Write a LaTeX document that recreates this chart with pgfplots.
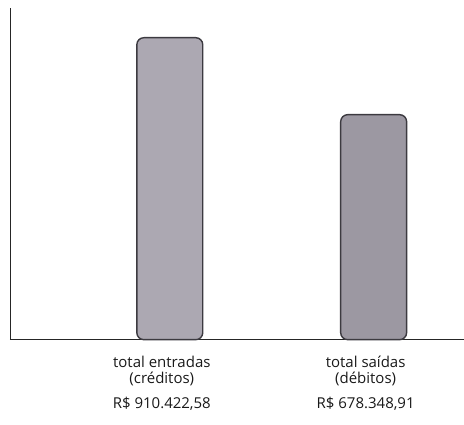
\documentclass[border=0pt]{standalone}
\usepackage{pgfplots}
\pgfplotsset{compat=1.18}
\usepackage{fontspec}
\setmainfont{Open Sans}
\definecolor{barA}{RGB}{172,168,178}
\definecolor{barB}{RGB}{156,152,162}
\definecolor{barEdge}{RGB}{60,58,64}
\begin{document}
\begin{tikzpicture}
\begin{axis}[
  scale only axis,
  width=454pt, height=332pt,
  xmin=-0.784, xmax=1.441,
  ymin=0, ymax=1000000,
  axis x line=bottom, axis y line=left,
  axis line style={-, line width=0.9pt, black!85},
  ytick=\empty,
  xtick={0,1},
  xticklabels={{total entradas\\(créditos)\\[10pt]R\$ 910.422,58},
               {total saídas\\(débitos)\\[10pt]R\$ 678.348,91}},
  xticklabel style={align=center, font=\fontsize{15}{15.5}\selectfont,
    text=black!90, xshift=-8pt, yshift=-13pt},
  major tick length=0pt,
  ybar, bar width=66pt,
  clip=false,
]
\addplot[bar shift=0pt, fill=barA, draw=barEdge, line width=1.4pt,
  rounded corners=7pt] coordinates {(0,910422.58)};
\addplot[bar shift=0pt, fill=barB, draw=barEdge, line width=1.4pt,
  rounded corners=7pt] coordinates {(1,678348.91)};
\end{axis}
\path (current axis.north west) ++(-10pt,8pt);
\path (current axis.south east) ++(0pt,-85pt);
\end{tikzpicture}
\end{document}
